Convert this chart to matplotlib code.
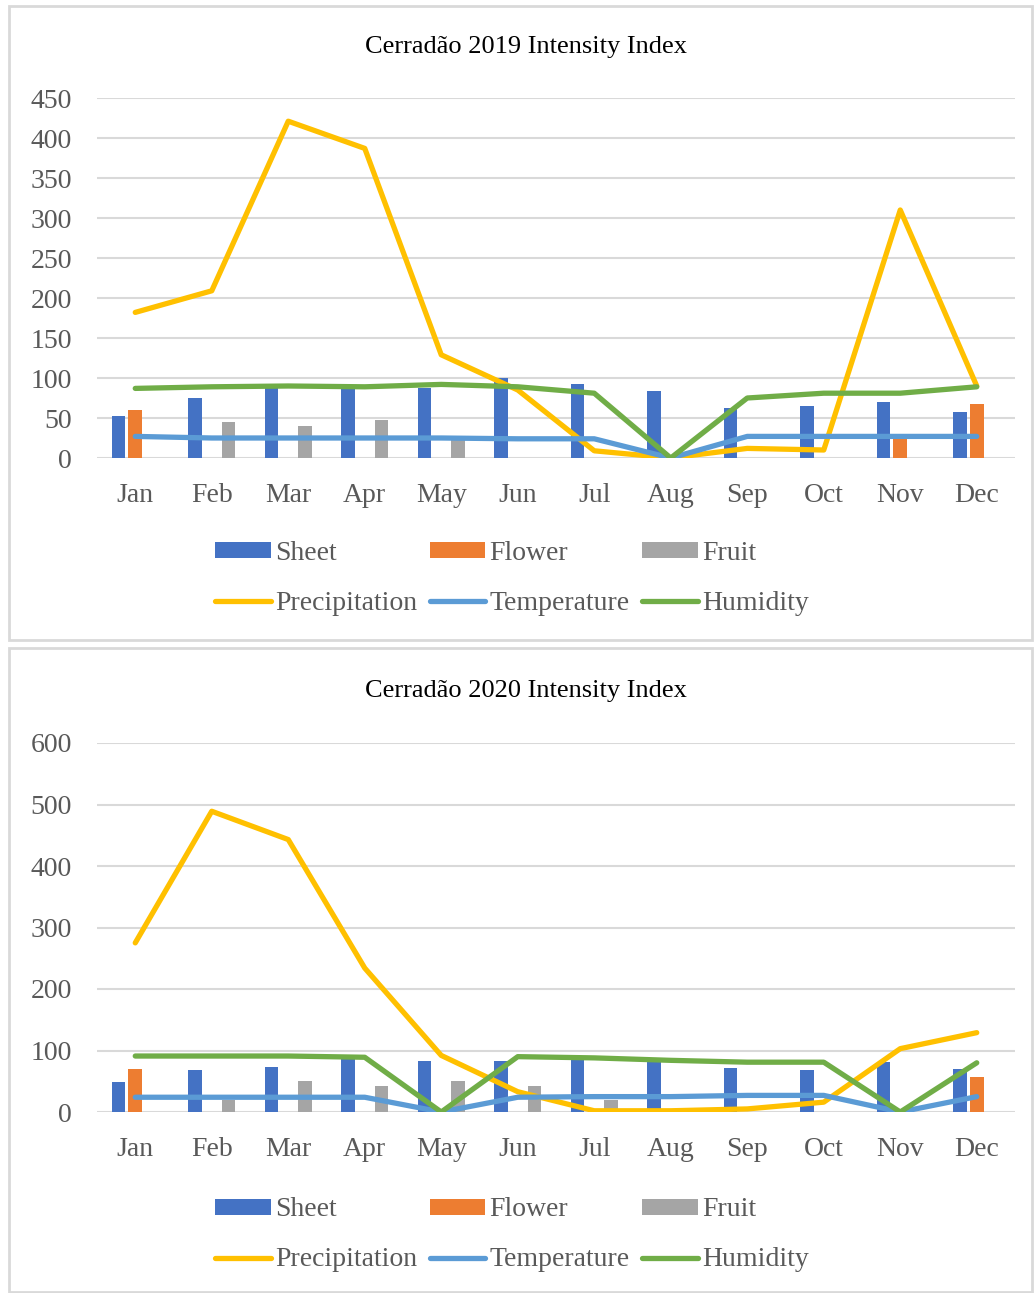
import numpy as np
import matplotlib
matplotlib.use("Agg")
import matplotlib.pyplot as plt
from matplotlib.patches import Rectangle

months = ["Jan", "Feb", "Mar", "Apr", "May", "Jun", "Jul", "Aug", "Sep", "Oct", "Nov", "Dec"]

# 2019 values
sheet_2019 = [53, 75, 90, 88, 88, 100, 93, 84, 63, 65, 70, 58]
flower_2019 = [60, 0, 0, 0, 0, 0, 0, 0, 0, 0, 25, 67]
fruit_2019 = [0, 45, 40, 47, 22, 0, 0, 0, 0, 0, 0, 0]
precip_2019 = [182, 209, 421, 387, 129, 85, 9, 0, 12, 10, 310, 90]
temp_2019 = [27, 25, 25, 25, 25, 24, 24, 0, 27, 27, 27, 27]
humid_2019 = [87, 89, 90, 89, 92, 89, 81, 0, 75, 81, 81, 89]

# 2020 values
sheet_2020 = [48, 69, 73, 90, 83, 83, 85, 83, 71, 69, 82, 70]
flower_2020 = [70, 0, 0, 0, 0, 0, 0, 0, 0, 0, 0, 57]
fruit_2020 = [0, 20, 50, 43, 50, 43, 20, 0, 0, 0, 0, 0]
precip_2020 = [275, 489, 443, 234, 92, 33, 2, 2, 5, 16, 103, 129]
temp_2020 = [24, 24, 24, 24, 0, 24, 25, 25, 27, 27, 0, 25]
humid_2020 = [91, 91, 91, 89, 0, 90, 88, 84, 81, 81, 0, 80]

C_SHEET = "#4472C4"
C_FLOWER = "#ED7D31"
C_FRUIT = "#A5A5A5"
C_PRECIP = "#FFC000"
C_TEMP = "#5B9BD5"
C_HUMID = "#70AD47"
TXT = "#595959"
GRID = "#D9D9D9"

plt.rcParams["font.family"] = ["Liberation Serif", "DejaVu Serif"]

W, H = 1034, 1293
fig = plt.figure(figsize=(W / 100, H / 100), dpi=100)


def fx(px):
    return px / W


def fy(py):
    return 1 - py / H


def draw_panel(rect, title, title_y, legend_y, ymax, ystep,
               sheet, flower, fruit, precip, temp, humid):
    ax = fig.add_axes(rect)
    x = np.arange(len(months))
    off, bw = 0.22, 0.18
    b1 = ax.bar(x - off, sheet, bw, color=C_SHEET, label="Sheet", zorder=2)
    b2 = ax.bar(x, flower, bw, color=C_FLOWER, label="Flower", zorder=2)
    b3 = ax.bar(x + off, fruit, bw, color=C_FRUIT, label="Fruit", zorder=2)
    l1, = ax.plot(x, precip, color=C_PRECIP, lw=3.8, label="Precipitation",
                  solid_capstyle="round", solid_joinstyle="round", zorder=3)
    l2, = ax.plot(x, temp, color=C_TEMP, lw=3.8, label="Temperature",
                  solid_capstyle="round", solid_joinstyle="round", zorder=4)
    l3, = ax.plot(x, humid, color=C_HUMID, lw=3.8, label="Humidity",
                  solid_capstyle="round", solid_joinstyle="round", zorder=5)

    ax.set_xlim(-0.5, len(months) - 0.5)
    ax.set_ylim(0, ymax)
    ax.set_yticks(np.arange(0, ymax + 1, ystep))
    ax.set_xticks(x)
    ax.set_xticklabels(months)
    ax.tick_params(length=0, labelsize=20, colors=TXT)
    ax.tick_params(axis="y", pad=18)
    ax.tick_params(axis="x", pad=18)
    ax.yaxis.grid(True, color=GRID, lw=1.5, zorder=0)
    ax.set_axisbelow(True)
    for s in ax.spines.values():
        s.set_visible(False)

    fig.text(fx(526), title_y, title, ha="center", va="center", fontsize=19, color="black")

    handles = [b1, l1, b2, l2, b3, l3]
    labels = [h.get_label() for h in handles]
    fig.legend(handles, labels, loc="center", bbox_to_anchor=(fx(512), legend_y),
               ncol=3, frameon=False, fontsize=20, labelcolor=TXT,
               handlelength=2.0, handleheight=0.5, handletextpad=0.15,
               columnspacing=0.45, labelspacing=0.9, borderpad=0)
    return ax


# panel borders
fig.add_artist(Rectangle((fx(9), fy(640)), fx(1023), fy(6) - fy(640), transform=fig.transFigure,
                         fill=False, edgecolor=GRID, lw=2))
fig.add_artist(Rectangle((fx(9), fy(1292)), fx(1023), fy(648) - fy(1292), transform=fig.transFigure,
                         fill=False, edgecolor=GRID, lw=2))

draw_panel([fx(97), fy(458), fx(1015 - 97), fy(98) - fy(458)],
           "Cerradão 2019 Intensity Index", fy(47), fy(578), 450, 50,
           sheet_2019, flower_2019, fruit_2019, precip_2019, temp_2019, humid_2019)

draw_panel([fx(97), fy(1112), fx(1015 - 97), fy(743) - fy(1112)],
           "Cerradão 2020 Intensity Index", fy(691), fy(1235), 600, 100,
           sheet_2020, flower_2020, fruit_2020, precip_2020, temp_2020, humid_2020)

fig.savefig("out.png", dpi=100)
